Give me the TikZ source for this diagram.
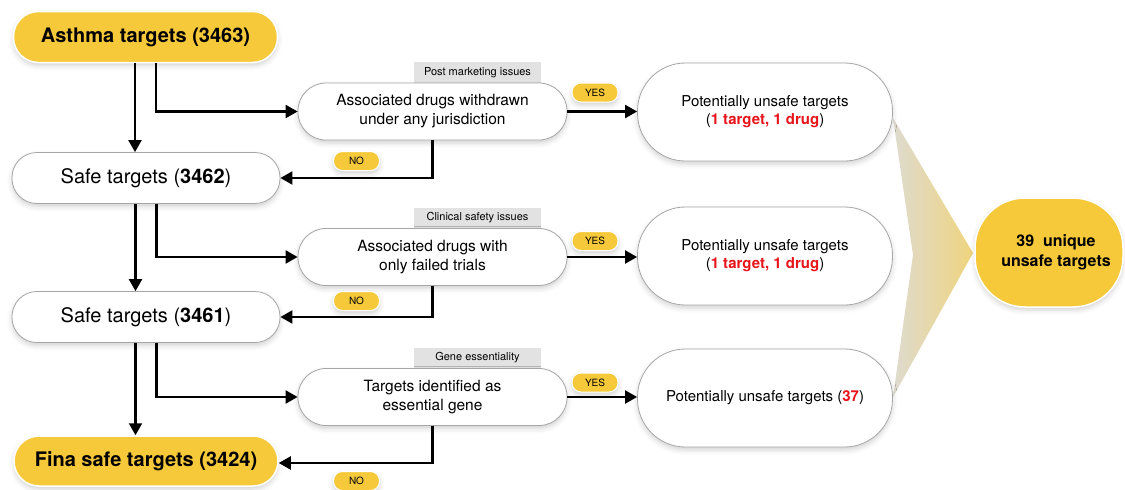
\documentclass[tikz,border=0pt]{standalone}
\usepackage{fontspec}
\setmainfont{TeX Gyre Heros}
\usetikzlibrary{arrows.meta,shadows.blur}
\definecolor{gold}{HTML}{F6C93B}
\definecolor{edgegray}{HTML}{A6A6A6}
\definecolor{catgray}{HTML}{E2E2E2}
\definecolor{alert}{HTML}{E8141B}
\definecolor{funnelL}{HTML}{DEDBCF}
\definecolor{funnelR}{HTML}{EFD47E}
\newcommand{\hl}[1]{\textcolor{alert}{\bfseries #1}}
\begin{document}
\begin{tikzpicture}[x=1pt,y=-1pt,
  softshadow/.style={blur shadow={shadow xshift=0pt,shadow yshift=-3pt,shadow blur radius=5pt,shadow opacity=18}},
  basebox/.style={inner sep=0pt,align=center,softshadow},
  mainbox/.style={basebox,fill=gold,draw=white,line width=1.5pt,rounded corners=25pt,
    minimum width=264pt,minimum height=51pt,font=\fontsize{20}{24}\selectfont\bfseries},
  safebox/.style={basebox,fill=white,draw=edgegray,line width=0.8pt,rounded corners=25pt,
    minimum width=268pt,minimum height=51pt,font=\fontsize{20}{24}\selectfont},
  decbox/.style={basebox,fill=white,draw=edgegray,line width=0.8pt,rounded corners=28pt,
    minimum width=269pt,minimum height=57pt,font=\fontsize{15.5}{19}\selectfont},
  riskbox/.style={basebox,fill=white,draw=edgegray,line width=0.8pt,rounded corners=48pt,
    minimum width=255pt,minimum height=98pt,font=\fontsize{15}{18}\selectfont},
  totalbox/.style={basebox,fill=gold,draw=white,line width=1.5pt,rounded corners=50pt,
    minimum width=148pt,minimum height=109pt,font=\fontsize{16}{20}\selectfont\bfseries},
  catbox/.style={fill=catgray,inner sep=0pt,minimum width=127pt,minimum height=21pt,
    font=\fontsize{11}{13}\selectfont},
  tag/.style={fill=gold,draw=white,line width=1pt,rounded corners=9pt,inner sep=0pt,
    minimum width=46pt,minimum height=19pt,font=\fontsize{10}{12}\selectfont,softshadow},
  arr/.style={line width=2.2pt,-{Triangle[length=12pt,width=13pt]}}
]
\useasboundingbox (0,0) rectangle (1125,490);

% funnel gathering the unsafe targets
\shade[left color=funnelL,right color=funnelR] (893,118) -- (973,253) -- (893,397) -- (913,255) -- cycle;

% category labels above each decision
\node[catbox] (cat1) at (477.5,72.5) {Post marketing issues};
\node[catbox] (cat2) at (477.5,218) {Clinical safety issues};
\node[catbox] (cat3) at (477.5,358) {Gene essentiality};

% left column
\node[mainbox] (asthma) at (145.5,37) {Asthma targets (3463)};
\node[safebox] (safeA) at (146,178) {Safe targets (\textbf{3462})};
\node[safebox] (safeB) at (146,317) {Safe targets (\textbf{3461})};
\node[mainbox,minimum height=50pt] (final) at (146,461) {Fina safe targets (3424)};

% decisions
\node[decbox] (dec1) at (432.5,111.5) {Associated drugs withdrawn\\under any jurisdiction};
\node[decbox] (dec2) at (432.5,257) {Associated drugs with\\only failed trials};
\node[decbox] (dec3) at (432.5,397) {Targets identified as\\essential gene};

% outcomes
\node[riskbox] (risk1) at (765,112) {Potentially unsafe targets\\(\hl{1 target, 1 drug})};
\node[riskbox] (risk2) at (765,256) {Potentially unsafe targets\\(\hl{1 target, 1 drug})};
\node[riskbox] (risk3) at (765,398) {Potentially unsafe targets (\hl{37})};

\node[totalbox] (total) at (1049,252.5) {\hspace*{14pt}39\ \ unique\\\hspace*{14pt}unsafe targets};

% yes / no tags
\node[tag] (yes1) at (595,92.5) {YES};
\node[tag] (yes2) at (595,241) {YES};
\node[tag] (yes3) at (595,382.5) {YES};
\node[tag] (no1) at (356.5,161) {NO};
\node[tag] (no2) at (356.5,301) {NO};
\node[tag] (no3) at (356.5,481) {NO};

% flow
\draw[arr] ([xshift=-10.5pt]asthma.south) -- ([xshift=-10.5pt]asthma.south |- safeA.north);
\draw[arr] ([xshift=10.5pt]asthma.south) |- (dec1.west);
\draw[arr] (dec1.east) -- (dec1.east -| risk1.west);
\draw[arr] (dec1.south) |- (safeA.east);

\draw[arr] ([xshift=-10.5pt]safeA.south) -- ([xshift=-10.5pt]safeA.south |- safeB.north);
\draw[arr] ([xshift=10.5pt]safeA.south) |- (dec2.west);
\draw[arr] (dec2.east) -- (dec2.east -| risk2.west);
\draw[arr] (dec2.south) |- (safeB.east);

\draw[arr] ([xshift=-10.5pt]safeB.south) -- ([xshift=-10.5pt]safeB.south |- final.north);
\draw[arr] ([xshift=10.5pt]safeB.south) |- (dec3.west);
\draw[arr] (dec3.east) -- (dec3.east -| risk3.west);
\draw[arr] (dec3.south) |- ([yshift=-2pt]final.east);
\end{tikzpicture}
\end{document}
